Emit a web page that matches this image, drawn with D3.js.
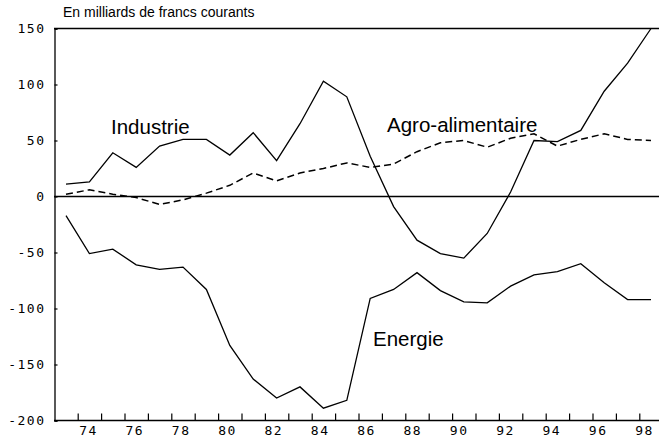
<!DOCTYPE html>
<html>
<head>
<meta charset="utf-8">
<script src="https://cdn.jsdelivr.net/npm/d3@7"></script>
<style>
  body { margin: 0; background: #fff; }
  .lbl { font-family: "Liberation Sans", Arial, sans-serif; fill: #000; }
  .tick text { font-family: "DejaVu Sans Mono", monospace; font-size: 13px; letter-spacing: 1.5px; fill: #000; }
</style>
</head>
<body>
<div id="chart"></div>
<script>
// years 1973 -> 1998
var years = d3.range(1973, 1999);

var industrie = [11, 13, 39, 26, 45, 51, 51, 37, 57, 32, 65, 103, 89, 36, -9, -39, -51, -55, -33, 4, 50, 49, 59, 94, 119, 150];
var agro = [2, 6, 2, -1, -7, -3, 3, 10, 21, 14, 21, 25, 30, 26, 29, 40, 48, 50, 44, 52, 56, 45, 51, 56, 51, 50];
var energie = [-17, -51, -47, -61, -65, -63, -83, -133, -163, -180, -170, -189, -182, -91, -83, -68, -84, -94, -95, -80, -70, -67, -60, -77, -92, -92];

var yTicks = [-200, -150, -100, -50, 0, 50, 100, 150];
var xLabels = d3.range(1974, 1999, 2);

var w = 659;
var h = 443;

var svg = d3.select("#chart")
    .append("svg")
    .attr("width", w)
    .attr("height", h);

var x = d3.scaleLinear().domain([1973, 1998]).range([66, 651]);
// the printed year labels sit slightly tighter than the data points
var xLab = d3.scaleLinear().domain([1974, 1998]).range([88, 644]);
var y = d3.scaleLinear().domain([-200, 150]).range([420.5, 28.5]);

// left axis with small inner ticks
svg.append("g")
    .attr("transform", "translate(54.5,0)")
    .call(d3.axisLeft(y).tickValues(yTicks).tickSize(-3).tickPadding(9)
        .tickFormat(function (d) { return d; }))
    .call(function (g) {
        g.select(".domain").attr("stroke", "#000").attr("stroke-width", 1.3);
        g.selectAll(".tick line").attr("stroke", "#000").attr("stroke-width", 1.2);
        g.selectAll(".tick text").attr("dy", "0.3em");
    });

// bottom axis: ticks between years, labels on even years
var halfYears = d3.range(1973.5, 1998, 1);
svg.append("g")
    .attr("transform", "translate(0,420.5)")
    .call(d3.axisBottom(x).tickValues(halfYears).tickSize(-7).tickFormat(""))
    .call(function (g) {
        g.select(".domain").remove();
        g.selectAll(".tick line").attr("stroke", "#000").attr("stroke-width", 1.2);
    });
svg.append("g")
    .attr("transform", "translate(0,420.5)")
    .call(d3.axisBottom(xLab).tickValues(xLabels).tickSize(0).tickPadding(5)
        .tickFormat(function (d) { return String(d).slice(2); }))
    .call(function (g) {
        g.select(".domain").remove();
    });

// frame lines: top, zero, bottom
[150, 0, -200].forEach(function (v) {
    svg.append("line")
        .attr("x1", 54).attr("x2", w)
        .attr("y1", y(v)).attr("y2", y(v))
        .attr("stroke", "#000")
        .attr("stroke-width", 1.3);
});

var line = d3.line()
    .x(function (d, i) { return x(years[i]); })
    .y(function (d) { return y(d); });

svg.append("path")
    .datum(industrie)
    .attr("d", line)
    .attr("fill", "none")
    .attr("stroke", "#000")
    .attr("stroke-width", 1.3);

svg.append("path")
    .datum(energie)
    .attr("d", line)
    .attr("fill", "none")
    .attr("stroke", "#000")
    .attr("stroke-width", 1.3);

svg.append("path")
    .datum(agro)
    .attr("d", line)
    .attr("fill", "none")
    .attr("stroke", "#000")
    .attr("stroke-width", 1.5)
    .attr("stroke-dasharray", "7,4");

// texts
svg.append("text").attr("class", "lbl")
    .attr("x", 63).attr("y", 17)
    .style("font-size", "14px")
    .text("En milliards de francs courants");

svg.append("text").attr("class", "lbl")
    .attr("x", 111).attr("y", 134)
    .style("font-size", "20.5px")
    .text("Industrie");

svg.append("text").attr("class", "lbl")
    .attr("x", 387).attr("y", 132)
    .style("font-size", "20.5px")
    .text("Agro-alimentaire");

svg.append("text").attr("class", "lbl")
    .attr("x", 373).attr("y", 346)
    .style("font-size", "20.5px")
    .text("Energie");
</script>
</body>
</html>
